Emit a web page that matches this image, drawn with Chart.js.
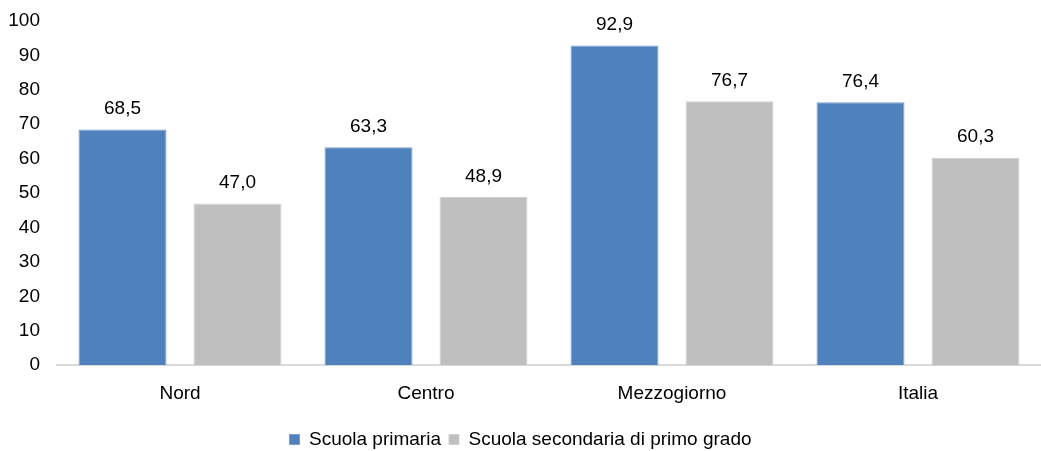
<!DOCTYPE html>
<html>
<head>
<meta charset="utf-8">
<script src="https://cdn.jsdelivr.net/npm/chart.js@4/dist/chart.umd.min.js"></script>
<style>
  html, body { margin: 0; padding: 0; background: #fff; }
  #wrap { width: 1041px; height: 451px; position: relative; }
</style>
</head>
<body>
<div id="wrap"><canvas id="chart"></canvas></div>
<script>
// data
const categories = ['Nord', 'Centro', 'Mezzogiorno', 'Italia'];
const primaria = [68.5, 63.3, 92.9, 76.4];
const secondaria = [47.0, 48.9, 76.7, 60.3];
const seriesNames = ['Scuola primaria', 'Scuola secondaria di primo grado'];
const yTicks = [0, 10, 20, 30, 40, 50, 60, 70, 80, 90, 100];

const fontFamily = '"Liberation Sans", Arial, sans-serif';
const fontSize = 19;

// value labels above bars, Italian decimal comma
const valueLabels = {
    id: 'valueLabels',
    afterDatasetsDraw(chart) {
        const ctx = chart.ctx;
        ctx.save();
        ctx.font = fontSize + 'px ' + fontFamily;
        ctx.fillStyle = '#000';
        ctx.textAlign = 'center';
        ctx.textBaseline = 'bottom';
        chart.data.datasets.forEach((ds, i) => {
            chart.getDatasetMeta(i).data.forEach((bar, j) => {
                const txt = ds.data[j].toFixed(1).replace('.', ',');
                ctx.fillText(txt, bar.x, bar.y - 11);
            });
        });
        ctx.restore();
    }
};

new Chart(document.getElementById('chart'), {
    type: 'bar',
    data: {
        labels: categories,
        datasets: [
            {
                label: seriesNames[0],
                data: primaria,
                backgroundColor: '#4F81BD',
                borderColor: '#7A9FCC',
                borderWidth: 1,
                categoryPercentage: 0.935,
                barPercentage: 0.765
            },
            {
                label: seriesNames[1],
                data: secondaria,
                backgroundColor: '#BFBFBF',
                borderColor: '#D0D0D0',
                borderWidth: 1,
                categoryPercentage: 0.935,
                barPercentage: 0.765
            }
        ]
    },
    options: {
        responsive: true,
        maintainAspectRatio: false,
        animation: false,
        layout: { padding: { top: 0, right: 0, left: 0, bottom: -8 } },
        plugins: {
            legend: {
                position: 'bottom',
                labels: {
                    boxWidth: 10,
                    boxHeight: 10,
                    padding: 8,
                    color: '#000',
                    font: { family: fontFamily, size: fontSize }
                }
            },
            tooltip: { enabled: false }
        },
        scales: {
            x: {
                grid: { display: false, drawTicks: false },
                border: { color: '#D9D9D9', width: 2 },
                ticks: {
                    color: '#000',
                    padding: 17,
                    font: { family: fontFamily, size: fontSize }
                }
            },
            y: {
                min: 0,
                max: 100,
                afterBuildTicks: scale => {
                    scale.ticks = yTicks.map(v => ({ value: v }));
                },
                afterFit: scale => { scale.width = 57; },
                grid: { display: false, drawTicks: false },
                border: { display: false },
                ticks: {
                    color: '#000',
                    padding: 17,
                    // small line height keeps the top of the scale near the canvas edge
                    font: { family: fontFamily, size: fontSize, lineHeight: 0.42 }
                }
            }
        }
    },
    plugins: [valueLabels]
});
</script>
</body>
</html>
